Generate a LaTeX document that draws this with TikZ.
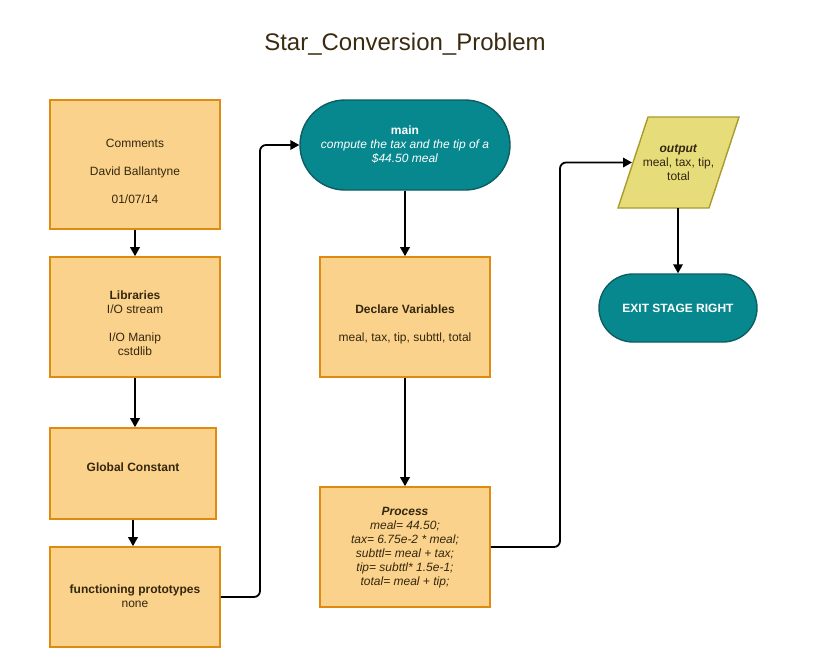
\documentclass[tikz,border=0pt]{standalone}
\usepackage{fontspec}
\setmainfont{Liberation Sans}
\usetikzlibrary{arrows.meta}
\definecolor{boxfill}{HTML}{FBD28B}
\definecolor{boxline}{HTML}{DE8B10}
\definecolor{tealfill}{HTML}{07888F}
\definecolor{tealline}{HTML}{0D5D62}
\definecolor{outfill}{HTML}{E6DC7A}
\definecolor{outline}{HTML}{A99C2C}
\definecolor{txt}{HTML}{33270F}
\definecolor{titlecol}{HTML}{3A2A10}
\begin{document}
\begin{tikzpicture}[x=1pt,y=-1pt,
  procbox/.style={draw=boxline,fill=boxfill,line width=1.6pt,inner sep=0pt},
  term/.style={draw=tealline,fill=tealfill,line width=1.4pt,inner sep=0pt},
  iobox/.style={draw=outline,fill=outfill,line width=1.4pt,line join=miter},
  lbl/.style={align=center,inner sep=0pt,text=txt,font=\fontsize{12}{14}\selectfont},
  wlbl/.style={align=center,inner sep=0pt,text=white,font=\fontsize{12}{14}\selectfont},
  conn/.style={draw=black,line width=1.8pt,-{Triangle[length=9pt,width=9.5pt]},rounded corners=6pt}]
\useasboundingbox (0,0) rectangle (827,667);
\node[text=titlecol,font=\fontsize{24}{28}\selectfont,inner sep=0pt] (title) at (405,44) {Star\_Conversion\_Problem};
% left column
\node[procbox,minimum width=170pt,minimum height=129pt] (comments) at (135,164.5) {};
\node[lbl] (commentsT) at (135,171) {Comments\\[14pt]David Ballantyne\\[14pt]01/07/14};
\node[procbox,minimum width=170pt,minimum height=120pt] (libs) at (135,317) {};
\node[lbl] (libsT) at (135,323.5) {\textbf{Libraries}\\I/O stream\\[14pt]I/O Manip\\cstdlib};
\node[procbox,minimum width=166pt,minimum height=91pt] (glob) at (133,473.5) {};
\node[lbl] (globT) at (133,467) {\textbf{Global Constant}};
\node[procbox,minimum width=170pt,minimum height=100pt] (func) at (135,597) {};
\node[lbl] (funcT) at (135,596.5) {\textbf{functioning prototypes}\\none};
% middle column
\node[term,minimum width=210pt,minimum height=90pt,rounded corners=45pt] (main) at (405,145) {};
\node[wlbl] (mainT) at (405,145) {\textbf{main}\\\textit{compute the tax and the tip of a}\\\textit{\$44.50 meal}};
\node[procbox,minimum width=170pt,minimum height=120pt] (decl) at (405,317) {};
\node[lbl] (declT) at (405,324) {\textbf{Declare Variables}\\[14pt]meal, tax, tip, subttl, total};
\node[procbox,minimum width=170pt,minimum height=120pt] (proc) at (405,547) {};
\node[lbl] (procT) at (405,547.5) {\textbf{\textit{Process}}\\\textit{meal= 44.50;}\\\textit{tax= 6.75e-2 * meal;}\\\textit{subttl= meal + tax;}\\\textit{tip= subttl* 1.5e-1;}\\\textit{total= meal + tip;}};
% right column
\draw[iobox] (648,117) -- (739,117) -- (709,208) -- (618,208) -- cycle;
\coordinate (outW) at (632,162.5);
\coordinate (outS) at (678,208);
\node[lbl] (out) at (678.5,163) {\textbf{\textit{output}}\\meal, tax, tip,\\total};
\node[term,minimum width=158pt,minimum height=68pt,rounded corners=34pt] (exit) at (678,308) {};
\node[wlbl] (exitT) at (678,308) {\textbf{EXIT STAGE RIGHT}};
% connectors
\draw[conn] (comments.south) -- (libs.north);
\draw[conn] (libs.south) -- (libs.south |- glob.north);
\draw[conn] (glob.south) -- (func.north -| glob.south);
\draw[conn] (func.east) -- (260,597) |- (main.west);
\draw[conn] (main.south) -- (decl.north);
\draw[conn] (decl.south) -- (proc.north);
\draw[conn] (proc.east) -- (560,547) |- (outW);
\draw[conn] (outS) -- (exit.north);
\end{tikzpicture}
\end{document}
